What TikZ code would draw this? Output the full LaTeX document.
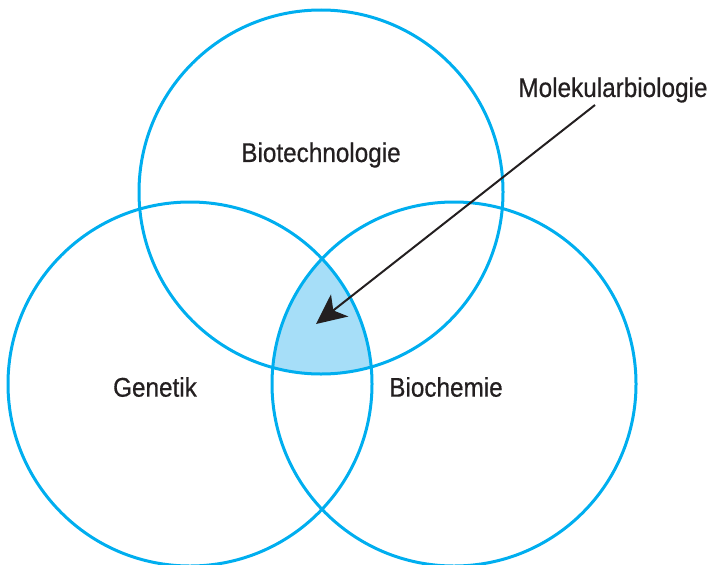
\documentclass[tikz,border=0pt]{standalone}
\usepackage{fontspec}
\setmainfont{Liberation Sans}[FakeStretch=0.9,FakeBold=0.6]
\usetikzlibrary{arrows.meta}
\definecolor{venncyan}{RGB}{0,174,239}
\definecolor{vennfill}{RGB}{166,222,248}
\definecolor{arrowblack}{RGB}{35,31,32}
\tikzset{%
  tipA/.tip={Stealth[length=15pt,width=14pt,inset=4pt]},
  ring/.style={draw=venncyan,line width=1.5pt},
  lbl/.style={font=\fontsize{13.5}{15}\selectfont,text=arrowblack,inner sep=1pt}
}
\begin{document}
\begin{tikzpicture}[x=0.5pt,y=0.5pt]
\useasboundingbox (0,0) rectangle (710,564);
% overlap of all three
\begin{scope}
  \clip (190,180) circle (182);
  \clip (454,180) circle (182);
  \fill[vennfill] (321,372) circle (182);
\end{scope}
\draw[ring] (321,372) circle (182);
\draw[ring] (190,180) circle (182);
\draw[ring] (454,180) circle (182);
\node[lbl] (bio) at (321,409) {Biotechnologie};
\node[lbl] (gen) at (155,177) {Genetik};
\node[lbl] (chem) at (446,177) {Biochemie};
\node[lbl] (mol) at (613,474) {Molekularbiologie};
\coordinate (tip) at (316,240);
\draw[arrowblack, line width=1pt, -tipA] ([xshift=-9pt,yshift=0pt]mol.south) -- (tip);
\end{tikzpicture}
\end{document}
